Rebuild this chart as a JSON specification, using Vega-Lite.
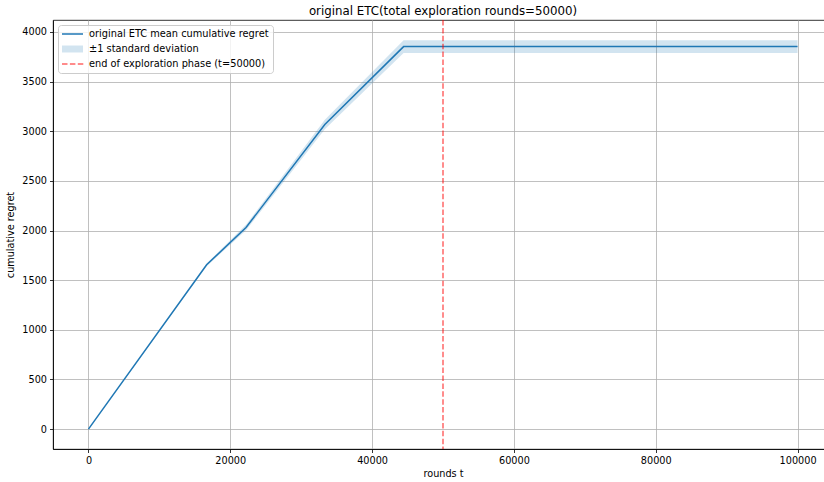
{
  "$schema": "https://vega.github.io/schema/vega-lite/v6.json",
  "width": 780,
  "height": 429,
  "autosize": {"type": "none"},
  "padding": {"left": 53, "top": 20, "right": 0, "bottom": 33},
  "background": "white",
  "title": {"text": "original ETC(total exploration rounds=50000)", "fontSize": 11.8, "fontWeight": "normal", "font": "DejaVu Sans", "color": "#000", "offset": 1.5},
  "config": {
    "font": "DejaVu Sans",
    "view": {"stroke": "#000", "strokeWidth": 0.8},
    "axis": {
      "labelFont": "DejaVu Sans", "labelFontSize": 9.7, "labelColor": "#000",
      "titleFont": "DejaVu Sans", "titleFontSize": 9.7, "titleFontWeight": "normal", "titleColor": "#000",
      "tickColor": "#000", "tickSize": 3.5, "tickWidth": 0.8,
      "domainColor": "#000", "domainWidth": 0.8,
      "gridColor": "#b0b0b0", "gridWidth": 0.8, "labelPadding": 3
    }
  },
  "datasets": {
    "curve": [
      {"t": 0, "mean": 0, "lo": 0, "hi": 0},
      {"t": 16667, "mean": 1655, "lo": 1641, "hi": 1669},
      {"t": 22222, "mean": 2030, "lo": 2003, "hi": 2057},
      {"t": 33333, "mean": 3068, "lo": 3021, "hi": 3115},
      {"t": 44444, "mean": 3852, "lo": 3787, "hi": 3917},
      {"t": 100000, "mean": 3852, "lo": 3787, "hi": 3917}
    ],
    "phase": [{"t": 50000}],
    "legendItems": [
      {"label": "original ETC mean cumulative regret"},
      {"label": "±1 standard deviation"},
      {"label": "end of exploration phase (t=50000)"}
    ]
  },
  "layer": [
    {
      "data": {"name": "curve"},
      "mark": {"type": "area", "color": "#1f77b4", "opacity": 0.2},
      "encoding": {
        "x": {"field": "t", "type": "quantitative", "scale": {"domain": [-5000, 105000], "nice": false, "zero": false},
              "axis": {"values": [0, 20000, 40000, 60000, 80000, 100000], "format": "d", "title": "rounds t", "titlePadding": 3}},
        "y": {"field": "lo", "type": "quantitative", "scale": {"domain": [-200, 4120], "nice": false, "zero": false},
              "axis": {"values": [0, 500, 1000, 1500, 2000, 2500, 3000, 3500, 4000], "format": "d", "title": "cumulative regret", "titlePadding": 6}},
        "y2": {"field": "hi"}
      }
    },
    {
      "data": {"name": "curve"},
      "mark": {"type": "line", "color": "#1f77b4", "strokeWidth": 1.5},
      "encoding": {
        "x": {"field": "t", "type": "quantitative"},
        "y": {"field": "mean", "type": "quantitative"}
      }
    },
    {
      "data": {"name": "phase"},
      "mark": {"type": "rule", "color": "#ff0000", "opacity": 0.6, "strokeWidth": 1.5, "strokeDash": [5.5, 2.4]},
      "encoding": {
        "x": {"field": "t", "type": "quantitative"}
      }
    },
    {
      "data": {"name": "legendItems"},
      "mark": {"type": "point", "filled": true, "opacity": 0},
      "encoding": {
        "color": {"field": "label", "type": "nominal",
          "scale": {"domain": ["original ETC mean cumulative regret", "±1 standard deviation", "end of exploration phase (t=50000)"],
                    "range": ["#1f77b4", "#d2e4f0", "#ff6666"]},
          "legend": {"title": null, "orient": "top-left", "offset": 5, "padding": 4,
                     "fillColor": "rgba(255,255,255,0.8)", "strokeColor": "#cccccc", "cornerRadius": 3,
                     "symbolSize": 100, "symbolOpacity": 1, "symbolStrokeWidth": 0, "labelOffset": 17, "labelLimit": 400,
                     "labelFont": "DejaVu Sans", "labelFontSize": 9.8, "labelColor": "#000", "rowPadding": 5,
                     "encode": {"symbols": {"update": {"opacity": {"value": 1}, "fillOpacity": {"value": 1}}}}}
        },
        "shape": {"field": "label", "type": "nominal",
          "scale": {"domain": ["original ETC mean cumulative regret", "±1 standard deviation", "end of exploration phase (t=50000)"],
                    "range": ["M-1,-0.15H3.2V0.15H-1Z", "M-1,-0.7H3.2V0.7H-1Z", "M-1,-0.15H0.1V0.15H-1ZM0.58,-0.15H1.68V0.15H0.58ZM2.16,-0.15H3.26V0.15H2.16Z"]},
          "legend": {"title": null, "orient": "top-left"}
        }
      }
    }
  ]
}
